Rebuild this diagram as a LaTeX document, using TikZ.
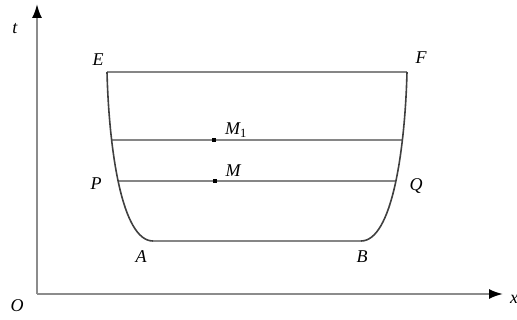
\documentclass[tikz,border=0pt]{standalone}
\usepackage{fontspec}
\setmainfont{Liberation Serif}
\usetikzlibrary{arrows.meta}
\begin{document}
\begin{tikzpicture}[x=1pt,y=-1pt,
  axis/.style={draw=gray!90, line width=2pt, -{Latex[length=14pt,width=10pt,color=black]}},
  level/.style={draw=gray!95, line width=1.8pt},
  curve/.style={draw=black!75, line width=1.6pt},
  lbl/.style={font=\fontsize{18}{18}\selectfont\itshape, inner sep=0pt},
  dot/.style={fill=black, minimum size=4pt, inner sep=0pt}]
\useasboundingbox (0,0) rectangle (517,320);
\coordinate (O) at (37,294);
\coordinate (Ytop) at (37,4);
\coordinate (Xend) at (503,294);
\draw[axis] (O) -- (Ytop);
\draw[axis] (O) -- (Xend);
% region
\coordinate (Ep) at (107,72);
\coordinate (Fp) at (407,72);
\coordinate (Ap) at (153,241);
\coordinate (Bp) at (361,241);
\begin{scope}
\clip (Ep) .. controls (109,150) and (122,241) .. (Ap) -- (Bp) .. controls (392,241) and (405,150) .. (Fp) -- cycle;
\draw[level] (90,140) -- (430,140);
\draw[level] (90,181) -- (430,181);
\end{scope}
\draw[level] (Ep) -- (Fp);
\draw[level] (Ap) -- (Bp);
\draw[curve] (Ep) .. controls (109,150) and (122,241) .. (Ap);
\draw[curve] (Bp) .. controls (392,241) and (405,150) .. (Fp);
\node[dot] (M) at (215,181) {};
\node[dot] (M1) at (214,140) {};
\node[lbl] (lt) at (15,29) {t};
\node[lbl] (lO) at (17,306) {O};
\node[lbl] (lx) at (514,299) {x};
\node[lbl] (lE) at (98,60) {E};
\node[lbl] (lF) at (421,58) {F};
\node[lbl] (lA) at (141,257) {A};
\node[lbl] (lB) at (362,257) {B};
\node[lbl] (lP) at (96,184) {P};
\node[lbl] (lQ) at (416,186) {Q};
\node[lbl] (lM) at (233,171) {M};
\node[lbl, anchor=west] (lM1) at (225,130) {M\textsubscript{\upshape 1}};
\end{tikzpicture}
\end{document}
